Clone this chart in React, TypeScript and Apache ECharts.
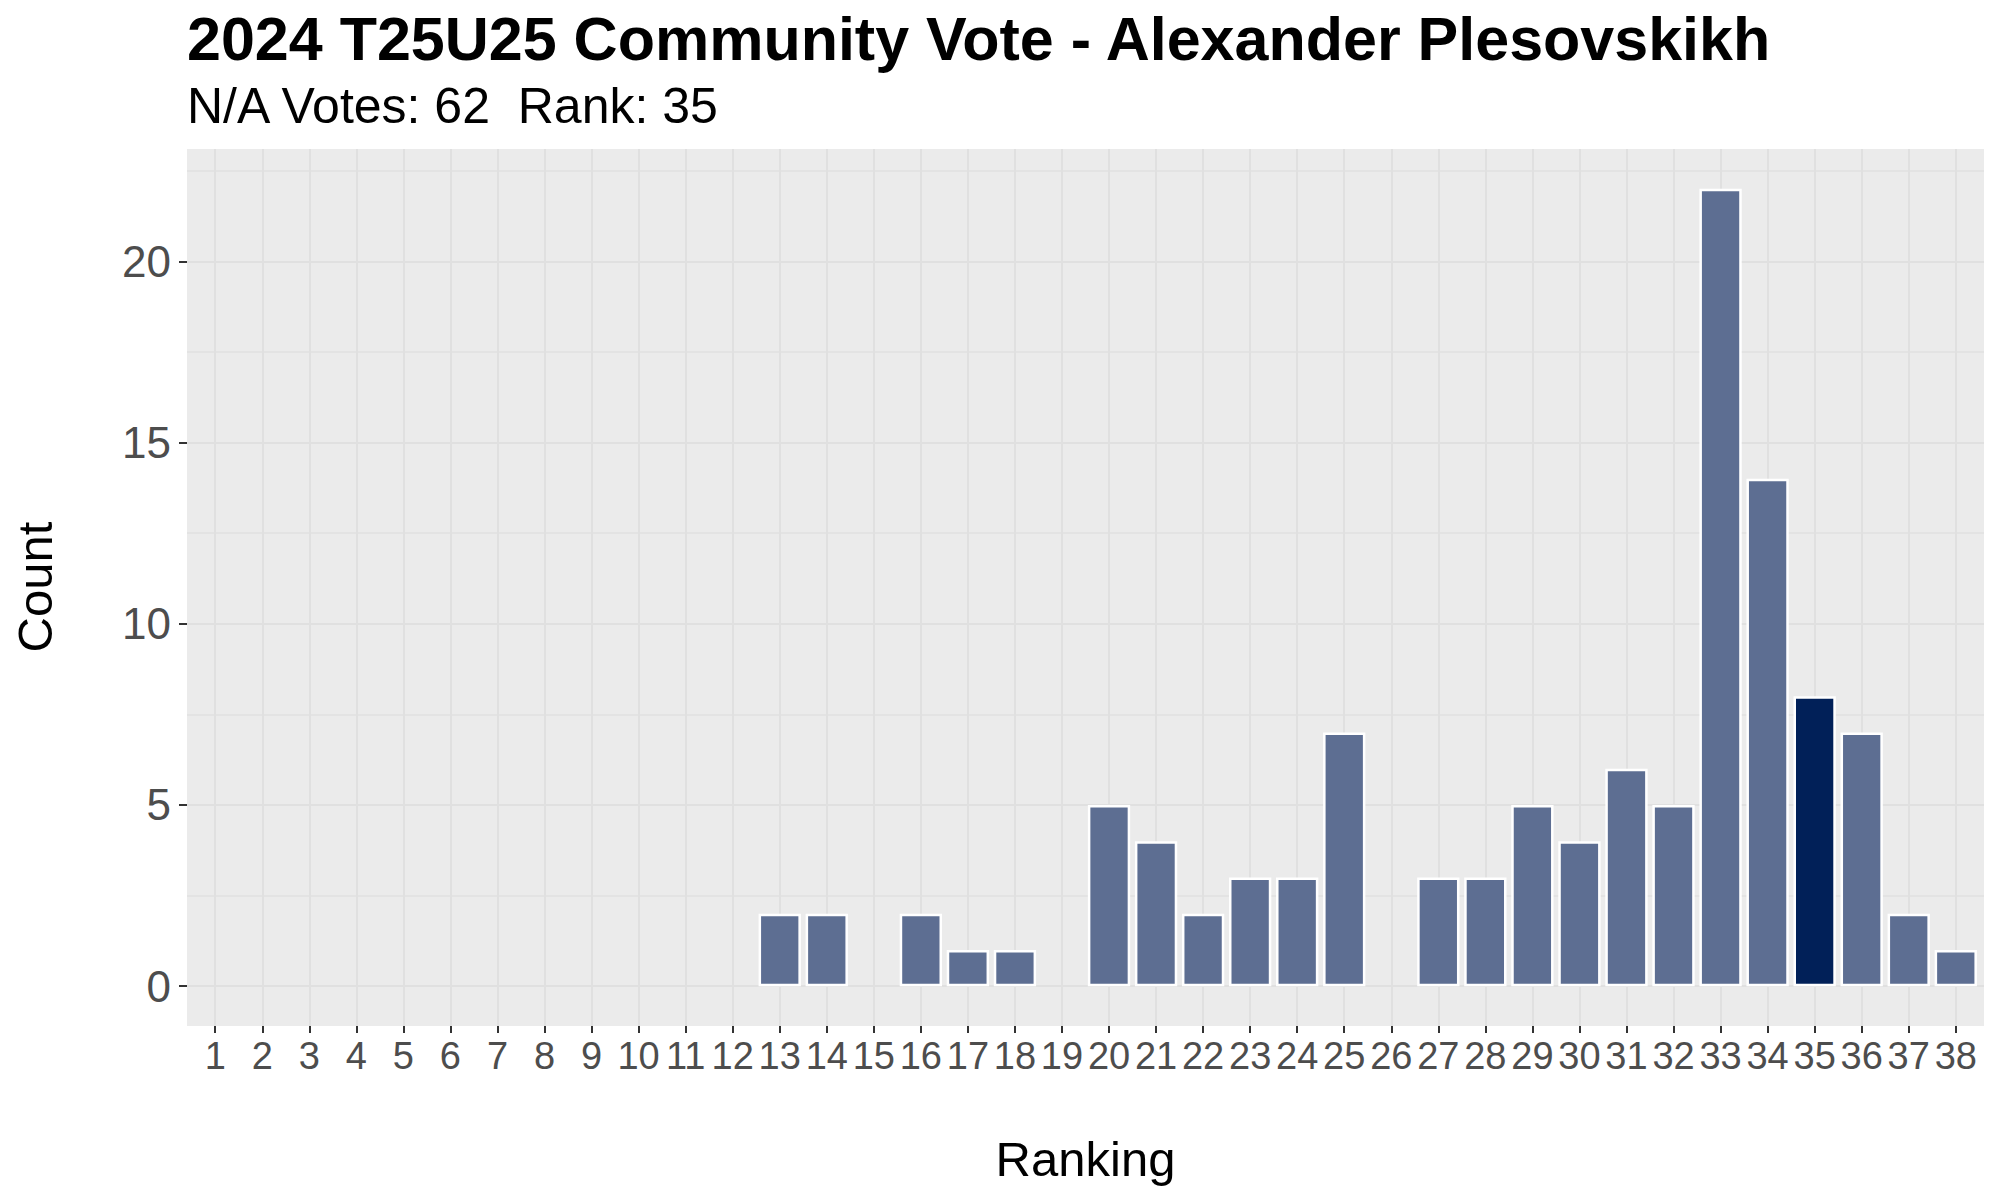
import React, { useEffect, useRef } from 'react';
import * as echarts from 'echarts';

const rankings = [1, 2, 3, 4, 5, 6, 7, 8, 9, 10, 11, 12, 13, 14, 15, 16, 17, 18, 19, 20, 21, 22, 23, 24, 25, 26, 27, 28, 29, 30, 31, 32, 33, 34, 35, 36, 37, 38];
const votedRanks = [13, 14, 16, 17, 18, 20, 21, 22, 23, 24, 25, 27, 28, 29, 30, 31, 32, 33, 34, 35, 36, 37, 38];
const counts = [2, 2, 2, 1, 1, 5, 4, 2, 3, 3, 7, 3, 3, 5, 4, 6, 5, 22, 14, 8, 7, 2, 1];
const highlightRank = 35;
const yTicks = [0, 5, 10, 15, 20];
const yMinorTicks = [2.5, 7.5, 12.5, 17.5, 22.5];
const titleText = '2024 T25U25 Community Vote - Alexander Plesovskikh';
const subtitleText = 'N/A Votes: 62  Rank: 35';
const xAxisTitle = 'Ranking';
const yAxisTitle = 'Count';

const FONT = '"Liberation Sans", Arial, Helvetica, sans-serif';
const BASE = '#5D6E92';
const HIGHLIGHT = '#012058';
const GRID = '#E0E0E0';

export default function App() {
  const ref = useRef<HTMLDivElement>(null);
  useEffect(() => {
    if (!ref.current) return;
    const chart = echarts.init(ref.current, undefined, { renderer: 'svg' });
    const option: any = {
      animation: false,
      backgroundColor: '#FFFFFF',
      title: [
        {
          text: titleText,
          left: 187,
          top: 8,
          padding: 0,
          textStyle: { fontSize: 61, fontWeight: 'bold', color: '#000000', fontFamily: FONT },
        },
        {
          text: subtitleText,
          left: 187,
          top: 81,
          padding: 0,
          textStyle: { fontSize: 50, fontWeight: 'normal', color: '#000000', fontFamily: FONT },
        },
      ],
      grid: {
        left: 187,
        right: 16,
        top: 149,
        bottom: 174,
        show: true,
        backgroundColor: '#EBEBEB',
        borderWidth: 0,
        containLabel: false,
      },
      xAxis: {
        type: 'value',
        min: 0.4,
        max: 38.6,
        axisLine: { show: false, onZero: false },
        axisTick: {
          show: true,
          customValues: rankings,
          length: 7,
          lineStyle: { color: '#333333', width: 2 },
        },
        axisLabel: {
          customValues: rankings,
          fontSize: 38,
          color: '#4D4D4D',
          fontFamily: FONT,
          margin: 11,
        },
        splitLine: { show: true, lineStyle: { color: GRID, width: 2 } },
      },
      yAxis: [
        {
          type: 'value',
          min: -1.1,
          max: 23.1,
          axisLine: { show: false, onZero: false },
          axisTick: {
            show: true,
            customValues: yTicks,
            length: 8,
            lineStyle: { color: '#333333', width: 2 },
          },
          axisLabel: {
            customValues: yTicks,
            fontSize: 44,
            color: '#4D4D4D',
            fontFamily: FONT,
            margin: 16,
          },
          splitLine: { show: true, lineStyle: { color: GRID, width: 2 } },
        },
        {
          type: 'value',
          position: 'left',
          min: -1.1,
          max: 23.1,
          axisLine: { show: false, onZero: false },
          axisTick: { show: false, customValues: yMinorTicks },
          axisLabel: { show: false, customValues: yMinorTicks },
          splitLine: { show: true, lineStyle: { color: GRID, width: 1.5 } },
        },
      ],
      graphic: [
        {
          type: 'text',
          x: 1085.5,
          y: 1159,
          style: {
            text: xAxisTitle,
            fontSize: 49,
            fontFamily: FONT,
            fill: '#000000',
            align: 'center',
            verticalAlign: 'middle',
            textAlign: 'center',
            textVerticalAlign: 'middle',
          },
        },
        {
          type: 'text',
          x: 35,
          y: 587,
          rotation: Math.PI / 2,
          style: {
            text: yAxisTitle,
            fontSize: 49,
            fontFamily: FONT,
            fill: '#000000',
            align: 'center',
            verticalAlign: 'middle',
            textAlign: 'center',
            textVerticalAlign: 'middle',
          },
        },
      ],
      series: [
        {
          type: 'bar',
          xAxisIndex: 0,
          yAxisIndex: 0,
          barWidth: 42.3,
          itemStyle: { borderColor: '#FFFFFF', borderWidth: 2.5 },
          data: votedRanks.map((r, i) => ({
            value: [r, counts[i]],
            itemStyle: { color: r === highlightRank ? HIGHLIGHT : BASE },
          })),
        },
      ],
    };
    chart.setOption(option);
    return () => chart.dispose();
  }, []);
  return (
    <div
      ref={ref}
      style={{ position: 'fixed', left: 0, top: 0, width: 2000, height: 1200 }}
    />
  );
}
